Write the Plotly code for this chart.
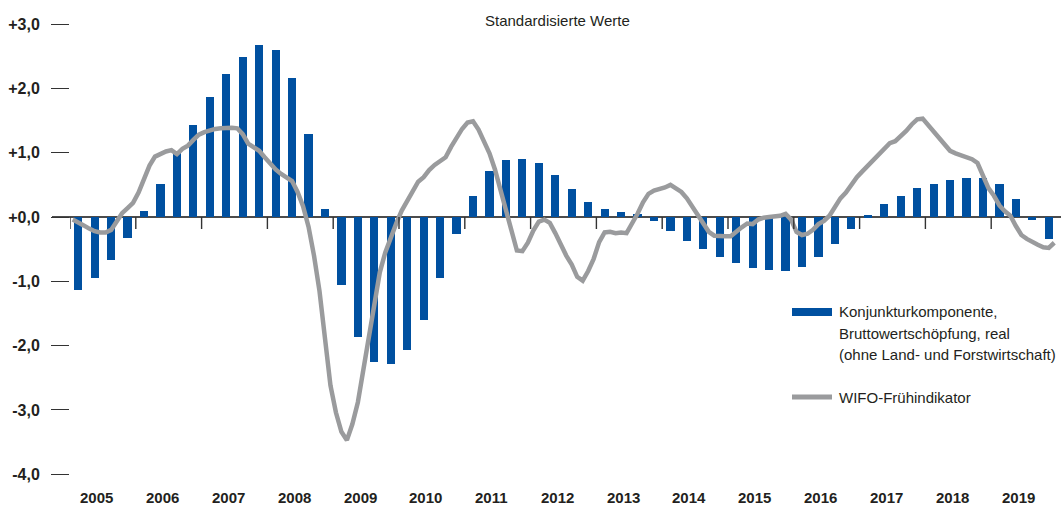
import plotly.graph_objects as go

# ---------------- data ----------------
years = list(range(2005, 2020))
quarters = [1, 2, 3, 4]

# Konjunkturkomponente, Bruttowertschöpfung, real (quarterly, 2005Q1-2019Q4)
konjunktur = [
    -1.13, -0.95, -0.67, -0.32,   # 2005
    0.10, 0.52, 0.99, 1.43,       # 2006
    1.86, 2.22, 2.49, 2.67,       # 2007
    2.60, 2.16, 1.29, 0.12,       # 2008
    -1.05, -1.86, -2.25, -2.29,   # 2009
    -2.07, -1.60, -0.95, -0.27,   # 2010
    0.33, 0.71, 0.88, 0.91,       # 2011
    0.84, 0.66, 0.43, 0.24,       # 2012
    0.12, 0.08, 0.05, -0.06,      # 2013
    -0.21, -0.37, -0.50, -0.62,   # 2014
    -0.72, -0.79, -0.82, -0.84,   # 2015
    -0.77, -0.62, -0.42, -0.19,   # 2016
    0.03, 0.21, 0.33, 0.45,       # 2017
    0.52, 0.57, 0.60, 0.60,       # 2018
    0.51, 0.28, -0.04, -0.34,     # 2019
]

# WIFO-Frühindikator (monthly, 2005-01 to 2019-12)
wifo = [
    -0.04, -0.08, -0.13, -0.18, -0.22, -0.24, -0.24, -0.20, -0.07, 0.06, 0.14, 0.22,   # 2005
    0.38, 0.58, 0.80, 0.94, 0.98, 1.02, 1.04, 0.98, 1.06, 1.11, 1.20, 1.28,            # 2006
    1.32, 1.35, 1.37, 1.38, 1.39, 1.39, 1.38, 1.29, 1.14, 1.08, 1.03, 0.93,            # 2007
    0.83, 0.74, 0.67, 0.61, 0.56, 0.39, 0.17, -0.15, -0.60, -1.15, -1.95, -2.62,       # 2008
    -3.04, -3.34, -3.47, -3.22, -2.88, -2.37, -1.80, -1.28, -0.86, -0.55, -0.31, -0.10,  # 2009
    0.10, 0.25, 0.42, 0.55, 0.62, 0.73, 0.81, 0.87, 0.93, 1.09, 1.23, 1.37,            # 2010
    1.47, 1.49, 1.36, 1.17, 0.99, 0.74, 0.42, 0.08, -0.26, -0.52, -0.53, -0.40,        # 2011
    -0.21, -0.07, -0.04, -0.09, -0.25, -0.43, -0.60, -0.74, -0.93, -0.99, -0.84, -0.65,  # 2012
    -0.39, -0.24, -0.23, -0.25, -0.24, -0.25, -0.11, 0.05, 0.23, 0.36, 0.41, 0.43,     # 2013
    0.46, 0.50, 0.44, 0.39, 0.29, 0.16, 0.01, -0.13, -0.23, -0.29, -0.30, -0.30,       # 2014
    -0.30, -0.22, -0.16, -0.10, -0.11, -0.04, -0.01, 0.00, 0.01, 0.02, 0.05, -0.04,    # 2015
    -0.23, -0.28, -0.26, -0.20, -0.11, -0.06, 0.02, 0.16, 0.29, 0.38, 0.51, 0.62,      # 2016
    0.71, 0.80, 0.89, 0.98, 1.07, 1.15, 1.18, 1.25, 1.34, 1.44, 1.52, 1.53,            # 2017
    1.43, 1.33, 1.22, 1.12, 1.03, 0.99, 0.96, 0.93, 0.90, 0.84, 0.63, 0.45,            # 2018
    0.33, 0.18, 0.09, 0.02, -0.14, -0.28, -0.34, -0.39, -0.43, -0.47, -0.48, -0.40,    # 2019
]

y_ticks = [3, 2, 1, 0, -1, -2, -3, -4]
y_tick_labels = ["+3,0", "+2,0", "+1,0", "+0,0", "-1,0", "-2,0", "-3,0", "-4,0"]

title_text = "Standardisierte Werte"
legend_bar_lines = ["Konjunkturkomponente,", "Bruttowertschöpfung, real",
                    "(ohne Land- und Forstwirtschaft)"]
legend_line_text = "WIFO-Frühindikator"

# ---------------- style ----------------
W, H = 1061, 506
M_L, M_R, M_T, M_B = 70, 0, 10, 26
PW, PH = W - M_L - M_R, H - M_T - M_B
BLUE = "#0050a0"
GREY = "#9a9b9d"
TXT = "#231f20"
FONT = "Liberation Sans, Arial, sans-serif"

X0 = 2005.0
X1 = X0 + PW / 65.8
Y0, Y1 = -4.09, 3.22


def px(x):
    return (x - M_L) / PW


def py(y):
    return (H - M_B - y) / PH


bar_x = [yr + (q - 0.5) / 4 for yr in years for q in quarters]
line_x = [yr + (m + 0.5) / 12 for yr in years for m in range(12)]

fig = go.Figure()
fig.add_trace(go.Bar(x=bar_x, y=konjunktur, width=0.125, marker_color=BLUE,
                     marker_line_width=0, showlegend=False))
fig.add_trace(go.Scatter(x=line_x, y=wifo, mode="lines",
                         line=dict(color=GREY, width=4.5), showlegend=False))

shapes = []
# zero line extending to the left tick area
shapes.append(dict(type="line", xref="paper", yref="y", x0=-18 / PW, x1=1,
                   y0=0, y1=0, line=dict(color="#111111", width=1.4), layer="below"))
# year ticks below zero line
tick_len = 12 / (PH / (Y1 - Y0))
for yr in years:
    shapes.append(dict(type="line", xref="x", yref="y", x0=yr, x1=yr, y0=0,
                       y1=-tick_len, line=dict(color="#333333", width=1.4)))

annotations = []
for yr in years:
    annotations.append(dict(x=yr + 0.41, y=py(497), xref="x", yref="paper",
                            text=f"<b>{yr}</b>", showarrow=False,
                            font=dict(family=FONT, size=15, color=TXT),
                            xanchor="center", yanchor="middle"))
annotations.append(dict(x=px(557), y=py(21), xref="paper", yref="paper",
                        text=title_text, showarrow=False,
                        font=dict(family=FONT, size=15, color=TXT),
                        xanchor="center", yanchor="middle"))
# legend
shapes.append(dict(type="line", xref="paper", yref="paper", x0=px(792), x1=px(832),
                   y0=py(312), y1=py(312), line=dict(color=BLUE, width=8)))
shapes.append(dict(type="line", xref="paper", yref="paper", x0=px(792), x1=px(832),
                   y0=py(397), y1=py(397), line=dict(color=GREY, width=5)))
for i, t in enumerate(legend_bar_lines):
    annotations.append(dict(x=px(837), y=py(312 + 21 * i), xref="paper", yref="paper",
                            text=t, showarrow=False, xanchor="left", yanchor="middle",
                            font=dict(family=FONT, size=15, color=TXT)))
annotations.append(dict(x=px(837), y=py(397), xref="paper", yref="paper",
                        text=legend_line_text, showarrow=False, xanchor="left",
                        yanchor="middle", font=dict(family=FONT, size=15, color=TXT)))

fig.update_layout(
    width=W, height=H,
    margin=dict(l=M_L, r=M_R, t=M_T, b=M_B, pad=0),
    paper_bgcolor="white", plot_bgcolor="white",
    shapes=shapes, annotations=annotations,
    bargap=0,
    xaxis=dict(range=[X0, X1], showgrid=False, zeroline=False, showline=False,
               showticklabels=False, ticks=""),
    yaxis=dict(range=[Y0, Y1], showgrid=False, zeroline=False, showline=False,
               tickvals=y_ticks, ticktext=[f"<b>{t}</b>" for t in y_tick_labels],
               ticks="outside", ticklen=18, tickwidth=1.4, tickcolor="#333333",
               ticklabelstandoff=8,
               tickfont=dict(family=FONT, size=16, color=TXT)),
)

fig.write_html(
    "out.html",
    config={"displayModeBar": False},
    post_script="document.body.style.margin='0';document.body.style.padding='0';",
)
